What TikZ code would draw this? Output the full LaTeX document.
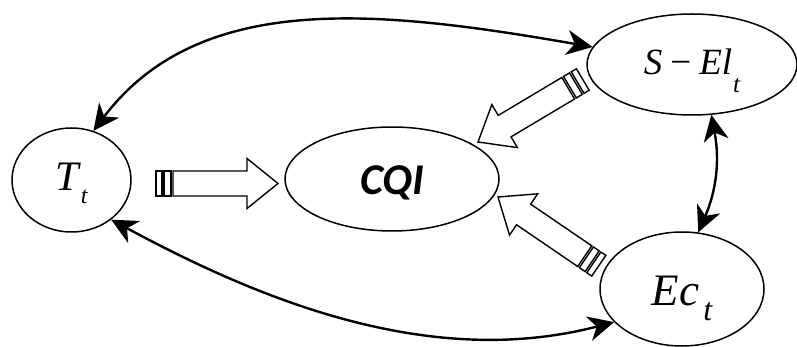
\documentclass[tikz,border=0pt]{standalone}
\usepackage{fontspec}
\setmainfont{Liberation Serif}
\newfontfamily\tnr{Liberation Serif}
\newfontfamily\cqifont{Carlito}
\usetikzlibrary{arrows.meta,shapes.geometric}
\begin{document}
\begin{tikzpicture}[x=1pt,y=-1pt,
  state/.style={draw, ellipse, line width=1.5pt, inner sep=0pt},
  link/.style={line width=2.4pt,
    {Stealth[length=26pt,width=25pt,inset=8pt]}-{Stealth[length=26pt,width=25pt,inset=8pt]}},
  barrow/.pic={
    \draw[line width=1.4pt, line join=miter]
      (0,0) -- (-31,25) -- (-31,12.5) -- (-105,12.5) -- (-105,-12.5)
      -- (-31,-12.5) -- (-31,-25) -- cycle;
    \draw[line width=1.4pt] (-114,-12.5) rectangle (-107,12.5);
    \draw[line width=1.4pt] (-122,-12.5) rectangle (-116,12.5);
  }]
\useasboundingbox (0,0) rectangle (797,347);

\node[state, minimum width=119pt, minimum height=104pt,
      font=\tnr\itshape\fontsize{42}{42}\selectfont, text height=34pt, text depth=13pt]
  (T) at (71.5,180) {T\kern2pt\raisebox{-13pt}{\fontsize{24}{24}\selectfont t}};

\node[state, minimum width=210pt, minimum height=101pt,
      font=\tnr\fontsize{37}{37}\selectfont, text height=38pt, text depth=18pt]
  (S) at (692,64.5) {\textit{S}\kern8pt−\kern8pt\textit{El}\kern1pt\raisebox{-18pt}{\fontsize{25}{25}\selectfont\itshape t}};

\node[state, minimum width=164pt, minimum height=114pt,
      font=\tnr\itshape\fontsize{45}{45}\selectfont, text height=47pt, text depth=15pt]
  (E) at (682,289) {Ec\kern4pt\raisebox{-15pt}{\fontsize{32}{32}\selectfont t}};

\node[state, minimum width=214pt, minimum height=104pt,
      font=\cqifont\bfseries\itshape\fontsize{44}{44}\selectfont, text height=32pt, text depth=0pt]
  (C) at (392,179) {CQI};

\draw[link] (T.66) .. controls (200,-10) and (380,10) .. (S.170);
\draw[link] (T.-45) .. controls (260,300) and (430,370) .. (E.206);
\draw[link] (S.-69) to[bend left=17] (E.74);

\pic at (278,183.5) {barrow};
\pic[rotate=210.8] at (478,142) {barrow};
\pic[rotate=145.7] at (498,197) {barrow};
\end{tikzpicture}
\end{document}
